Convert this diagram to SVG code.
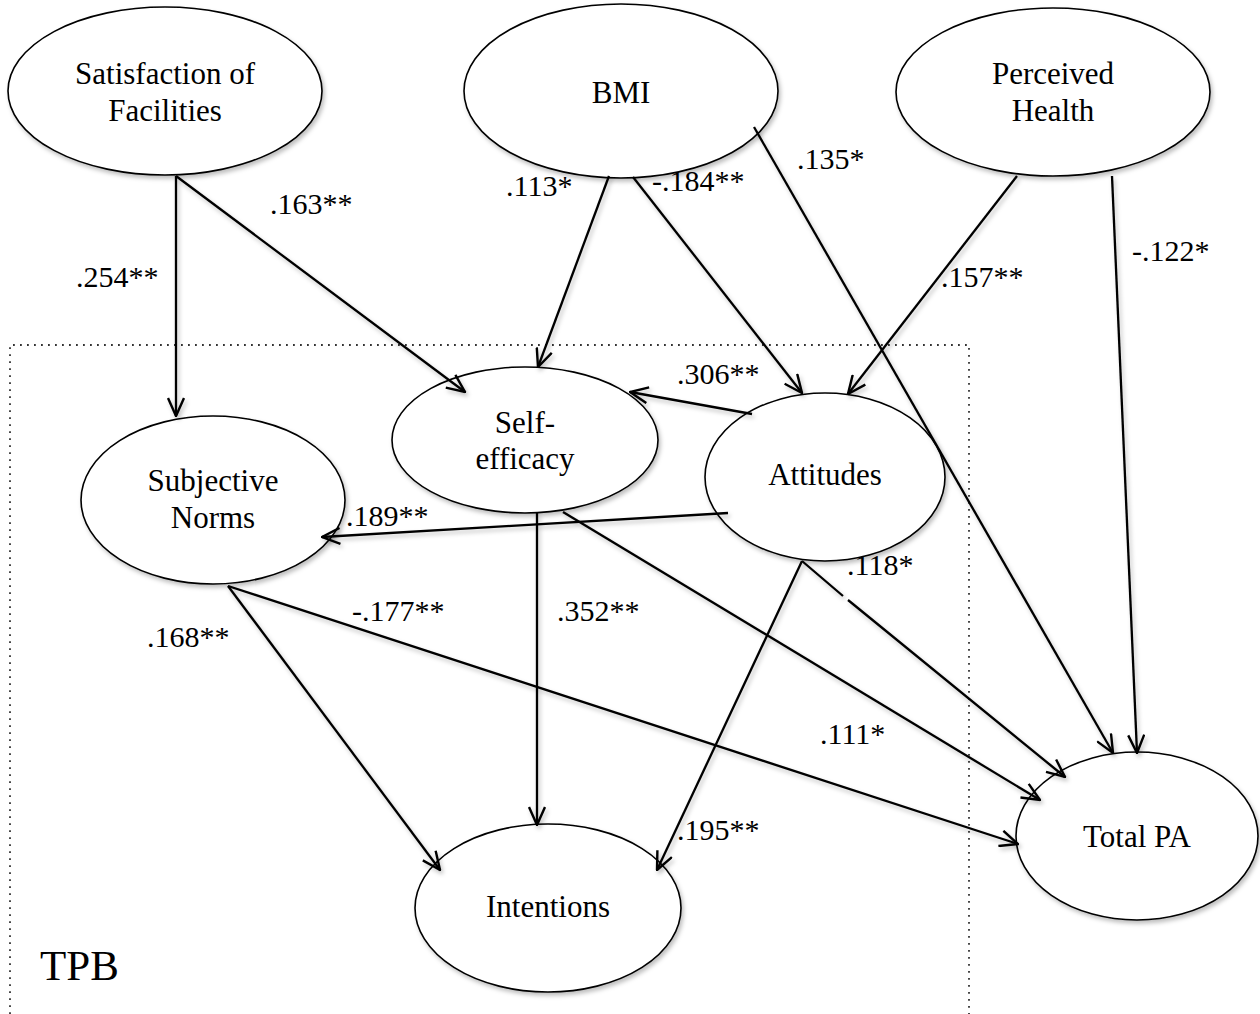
<svg xmlns="http://www.w3.org/2000/svg" width="1260" height="1014" viewBox="0 0 1260 1014">
<defs>
<filter id="sh" x="-10%" y="-10%" width="130%" height="130%">
<feDropShadow dx="2" dy="3" stdDeviation="2" flood-color="#000" flood-opacity="0.25"/>
</filter>
<marker id="ah" viewBox="0 0 20 18" refX="19" refY="9" markerWidth="20" markerHeight="18" markerUnits="userSpaceOnUse" orient="auto">
<path d="M1,1 L19,9 L1,17" fill="none" stroke="#000" stroke-width="2.4"/>
</marker>
</defs>
<style>
.node ellipse{fill:#fff;stroke:#000;stroke-width:1.6}
.nt{font-family:"Liberation Serif","Times New Roman",serif;font-size:31px;fill:#000;text-anchor:middle}
.lb{font-family:"Liberation Serif","Times New Roman",serif;font-size:30px;fill:#000}
.c{fill:none;stroke:#000;stroke-width:2.3;marker-end:url(#ah)}
.box{fill:none;stroke:#333;stroke-width:1.8;stroke-dasharray:1.8 5.2}
</style>
<rect width="1260" height="1014" fill="#fff"/>
<path class="box" d="M10,1014 V345 H969 V1014"/>
<g id="n-satisfaction" class="node" filter="url(#sh)"><ellipse cx="165" cy="91" rx="157" ry="84"/></g>
<g id="n-bmi" class="node" filter="url(#sh)"><ellipse cx="621" cy="91" rx="157" ry="87"/></g>
<g id="n-health" class="node" filter="url(#sh)"><ellipse cx="1053" cy="92" rx="157" ry="84"/></g>
<g id="n-selfefficacy" class="node" filter="url(#sh)"><ellipse cx="525" cy="440" rx="133" ry="73"/></g>
<g id="n-subjnorms" class="node" filter="url(#sh)"><ellipse cx="213" cy="500" rx="132" ry="84"/></g>
<g id="n-attitudes" class="node" filter="url(#sh)"><ellipse cx="825" cy="477" rx="120" ry="84"/></g>
<g id="n-intentions" class="node" filter="url(#sh)"><ellipse cx="548" cy="908" rx="133" ry="84"/></g>
<g id="n-totalpa" class="node" filter="url(#sh)"><ellipse cx="1137" cy="836" rx="121" ry="84"/></g>
<g id="connectors" filter="url(#sh)">
<path class="c" d="M176,176 L176,416"/>
<path class="c" d="M176,176 L465,392"/>
<path class="c" d="M609,176 L538,367"/>
<path class="c" d="M633,177 L802,393"/>
<path class="c" d="M754,127 L1113,753"/>
<path class="c" d="M1017,176 L848,394"/>
<path class="c" d="M1112,176 L1137,753"/>
<path class="c" d="M752,414 L630,392"/>
<path class="c" d="M728,513 L322,537"/>
<path class="c" d="M537,513 L537,825"/>
<path class="c" d="M563,512 L1040,800"/>
<path class="c" d="M802,561 L657,870"/>
<path class="c" d="M228,586 L440,870"/>
<path class="c" d="M228,586 L1018,844"/>
<path class="c" d="M802,561 L843,596 M848,600 L1065,777"/>
</g>
<g id="labels">
<text class="nt" x="165" y="84">Satisfaction of</text>
<text class="nt" x="165" y="121">Facilities</text>
<text class="nt" x="621" y="103">BMI</text>
<text class="nt" x="1053" y="84">Perceived</text>
<text class="nt" x="1053" y="121">Health</text>
<text class="nt" x="525" y="433">Self-</text>
<text class="nt" x="525" y="469">efficacy</text>
<text class="nt" x="213" y="491">Subjective</text>
<text class="nt" x="213" y="528">Norms</text>
<text class="nt" x="825" y="485">Attitudes</text>
<text class="nt" x="548" y="917">Intentions</text>
<text class="nt" x="1137" y="847">Total PA</text>
<text class="lb" x="270" y="214">.163**</text>
<text class="lb" x="76" y="287">.254**</text>
<text class="lb" x="506" y="196">.113*</text>
<text class="lb" x="652" y="191">-.184**</text>
<text class="lb" x="797" y="169">.135*</text>
<text class="lb" x="941" y="287">.157**</text>
<text class="lb" x="1132" y="261">-.122*</text>
<text class="lb" x="677" y="384">.306**</text>
<text class="lb" x="346" y="526">.189**</text>
<text class="lb" x="847" y="575">.118*</text>
<text class="lb" x="352" y="621">-.177**</text>
<text class="lb" x="147" y="647">.168**</text>
<text class="lb" x="557" y="621">.352**</text>
<text class="lb" x="820" y="744">.111*</text>
<text class="lb" x="677" y="840">.195**</text>
<text class="lb" x="40" y="980" style="font-size:43px">TPB</text>
</g>
</svg>
